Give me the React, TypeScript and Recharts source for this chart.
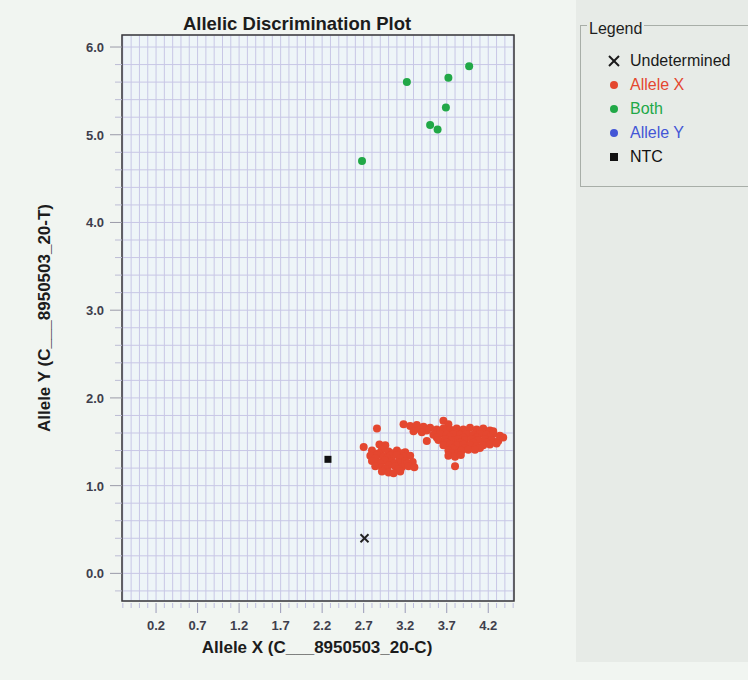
import {
  CartesianGrid,
  ReferenceArea,
  Scatter,
  ScatterChart,
  XAxis,
  YAxis,
} from "recharts";

type Pt = { x: number; y: number };

const X_LABELS = [0.2, 0.7, 1.2, 1.7, 2.2, 2.7, 3.2, 3.7, 4.2];
const Y_LABELS = [0, 1, 2, 3, 4, 5, 6];
const X_DOMAIN: [number, number] = [-0.21, 4.51];
const Y_DOMAIN: [number, number] = [-0.315, 6.137];

const ALLELE_X: Pt[] = [
  // left cluster
  { x: 2.86, y: 1.65 }, { x: 2.7, y: 1.44 }, { x: 2.89, y: 1.47 }, { x: 2.96, y: 1.46 },
  { x: 2.8, y: 1.4 }, { x: 2.92, y: 1.41 }, { x: 3.0, y: 1.39 }, { x: 3.1, y: 1.4 }, { x: 3.2, y: 1.38 },
  { x: 2.88, y: 1.37 }, { x: 3.05, y: 1.37 }, { x: 3.15, y: 1.37 },
  { x: 2.78, y: 1.34 }, { x: 2.86, y: 1.35 }, { x: 2.94, y: 1.33 }, { x: 3.02, y: 1.34 },
  { x: 3.1, y: 1.35 }, { x: 3.18, y: 1.33 }, { x: 3.26, y: 1.34 },
  { x: 2.84, y: 1.31 }, { x: 2.98, y: 1.31 }, { x: 3.14, y: 1.31 },
  { x: 2.8, y: 1.28 }, { x: 2.88, y: 1.27 }, { x: 2.96, y: 1.29 }, { x: 3.04, y: 1.28 },
  { x: 3.12, y: 1.27 }, { x: 3.2, y: 1.28 }, { x: 3.29, y: 1.27 },
  { x: 2.9, y: 1.25 }, { x: 3.06, y: 1.25 }, { x: 3.22, y: 1.25 },
  { x: 2.84, y: 1.22 }, { x: 2.92, y: 1.21 }, { x: 3.0, y: 1.23 }, { x: 3.08, y: 1.22 },
  { x: 3.16, y: 1.21 }, { x: 3.24, y: 1.22 }, { x: 3.31, y: 1.21 },
  { x: 2.96, y: 1.19 }, { x: 3.12, y: 1.19 },
  { x: 2.92, y: 1.16 }, { x: 3.0, y: 1.15 }, { x: 3.06, y: 1.14 }, { x: 3.14, y: 1.16 },
  // right cluster
  { x: 3.18, y: 1.7 }, { x: 3.26, y: 1.68 }, { x: 3.34, y: 1.69 }, { x: 3.42, y: 1.67 },
  { x: 3.66, y: 1.74 }, { x: 3.72, y: 1.7 }, { x: 3.5, y: 1.66 },
  { x: 3.3, y: 1.62 }, { x: 3.38, y: 1.64 }, { x: 3.46, y: 1.63 }, { x: 3.4, y: 1.61 },
  { x: 3.58, y: 1.64 }, { x: 3.66, y: 1.65 },
  { x: 3.74, y: 1.64 }, { x: 3.82, y: 1.65 }, { x: 3.9, y: 1.64 }, { x: 3.98, y: 1.66 },
  { x: 4.06, y: 1.64 }, { x: 4.14, y: 1.65 }, { x: 4.22, y: 1.63 },
  { x: 3.62, y: 1.62 }, { x: 3.78, y: 1.62 }, { x: 3.94, y: 1.62 }, { x: 4.1, y: 1.62 }, { x: 4.26, y: 1.62 },
  { x: 3.54, y: 1.58 }, { x: 3.62, y: 1.59 }, { x: 3.7, y: 1.58 }, { x: 3.78, y: 1.59 },
  { x: 3.86, y: 1.58 }, { x: 3.94, y: 1.59 }, { x: 4.02, y: 1.58 }, { x: 4.1, y: 1.59 },
  { x: 4.18, y: 1.58 }, { x: 4.26, y: 1.59 }, { x: 4.34, y: 1.57 },
  { x: 3.58, y: 1.55 }, { x: 3.74, y: 1.55 }, { x: 3.9, y: 1.55 }, { x: 4.06, y: 1.55 }, { x: 4.22, y: 1.55 },
  { x: 3.46, y: 1.51 }, { x: 3.6, y: 1.52 }, { x: 3.68, y: 1.53 }, { x: 3.76, y: 1.52 },
  { x: 3.84, y: 1.53 }, { x: 3.92, y: 1.52 }, { x: 4.0, y: 1.53 }, { x: 4.08, y: 1.52 },
  { x: 4.16, y: 1.53 }, { x: 4.24, y: 1.52 }, { x: 4.32, y: 1.51 }, { x: 4.38, y: 1.55 },
  { x: 3.7, y: 1.49 }, { x: 3.86, y: 1.49 }, { x: 4.02, y: 1.49 }, { x: 4.18, y: 1.49 },
  { x: 3.66, y: 1.46 }, { x: 3.74, y: 1.47 }, { x: 3.82, y: 1.46 }, { x: 3.9, y: 1.47 },
  { x: 3.98, y: 1.46 }, { x: 4.06, y: 1.45 }, { x: 4.14, y: 1.46 }, { x: 4.22, y: 1.47 },
  { x: 4.3, y: 1.48 },
  { x: 3.76, y: 1.43 }, { x: 3.92, y: 1.43 }, { x: 4.1, y: 1.43 },
  { x: 3.72, y: 1.4 }, { x: 3.8, y: 1.41 }, { x: 3.88, y: 1.4 }, { x: 3.96, y: 1.41 },
  { x: 4.04, y: 1.41 },
  { x: 3.76, y: 1.37 }, { x: 3.84, y: 1.37 },
  { x: 3.72, y: 1.34 }, { x: 3.8, y: 1.33 }, { x: 3.87, y: 1.35 },
  { x: 3.8, y: 1.22 },
];

const BOTH: Pt[] = [
  { x: 3.22, y: 5.6 }, { x: 3.72, y: 5.65 }, { x: 3.97, y: 5.78 }, { x: 3.69, y: 5.31 },
  { x: 3.5, y: 5.11 }, { x: 3.59, y: 5.06 }, { x: 2.68, y: 4.7 },
];

const ALLELE_Y: Pt[] = [];
const NTC: Pt[] = [{ x: 2.27, y: 1.3 }];
const UNDETERMINED: Pt[] = [{ x: 2.71, y: 0.4 }];

function steps(from: number, to: number, step: number) {
  const out: number[] = [];
  for (let v = from; v <= to + 1e-9; v += step) out.push(Math.round(v * 10) / 10);
  return out;
}
const X_GRID = steps(-0.2, 4.5, 0.1);
const Y_GRID = steps(-0.2, 6.0, 0.2);

const FONT = '"Liberation Sans", Arial, sans-serif';
const RED = "#e4472f";
const GREEN = "#21a847";
const BLUE = "#4356d6";

const isMajor = (list: number[], v: number) => list.some((l) => Math.abs(l - v) < 1e-6);

function XTick(props: any) {
  const { x, y, payload } = props;
  const major = isMajor(X_LABELS, payload.value);
  return (
    <g>
      <line x1={x} x2={x} y1={y + 2} y2={y + (major ? 12 : 7)} stroke={major ? "#9a9ab8" : "#bebee0"} />
      {major && (
        <text x={x} y={y + 29} textAnchor="middle" fontFamily={FONT} fontSize={13} fontWeight="bold" fill="#3e3e4c">
          {payload.value.toFixed(1)}
        </text>
      )}
    </g>
  );
}

function YTick(props: any) {
  const { x, y, payload } = props;
  const major = isMajor(Y_LABELS, payload.value);
  return (
    <g>
      <line x1={x - (major ? 12 : 7)} x2={x} y1={y} y2={y} stroke={major ? "#9a9aa8" : "#bcbcd4"} />
      {major && (
        <text x={x - 18} y={y + 5} textAnchor="end" fontFamily={FONT} fontSize={13} fontWeight="bold" fill="#3e3e4c">
          {payload.value.toFixed(1)}
        </text>
      )}
    </g>
  );
}

const Dot = (color: string) => (p: any) => <circle cx={p.cx} cy={p.cy} r={4} fill={color} />;
const Square = (p: any) => <rect x={p.cx - 3.5} y={p.cy - 3.5} width={7} height={7} fill="#111" />;
const Cross = (p: any) => (
  <g stroke="#222" strokeWidth={2}>
    <line x1={p.cx - 4} y1={p.cy - 4} x2={p.cx + 4} y2={p.cy + 4} />
    <line x1={p.cx - 4} y1={p.cy + 4} x2={p.cx + 4} y2={p.cy - 4} />
  </g>
);

const LEGEND = [
  { name: "Undetermined", color: "#1a1a1a", kind: "x" },
  { name: "Allele X", color: RED, kind: "dot" },
  { name: "Both", color: GREEN, kind: "dot" },
  { name: "Allele Y", color: BLUE, kind: "dot" },
  { name: "NTC", color: "#111", kind: "sq" },
];

function LegendBox() {
  return (
    <div
      style={{
        position: "absolute",
        left: 580,
        top: 25,
        width: 180,
        height: 160,
        border: "1px solid #a8aea8",
        fontFamily: FONT,
      }}
    >
      <span
        style={{
          position: "absolute",
          left: 6,
          top: -5,
          lineHeight: "16px",
          fontSize: 16,
          background: "#e7ebe7",
          padding: "0 2px",
          color: "#1e1e1e",
        }}
      >
        Legend
      </span>
      {LEGEND.map((item, i) => (
        <div
          key={item.name}
          style={{ position: "absolute", left: 26, top: 25 + i * 24, height: 20, display: "flex", alignItems: "center" }}
        >
          <svg width={14} height={14} style={{ marginRight: 9 }}>
            {item.kind === "x" && (
              <g stroke={item.color} strokeWidth={2}>
                <line x1={2} y1={2} x2={12} y2={12} />
                <line x1={2} y1={12} x2={12} y2={2} />
              </g>
            )}
            {item.kind === "dot" && <circle cx={7} cy={7} r={4} fill={item.color} />}
            {item.kind === "sq" && <rect x={3} y={3} width={8} height={8} fill={item.color} />}
          </svg>
          <span style={{ fontSize: 16, color: item.color, whiteSpace: "nowrap" }}>{item.name}</span>
        </div>
      ))}
    </div>
  );
}

export default function App() {
  return (
    <div style={{ position: "absolute", left: 0, top: 0, width: 748, height: 680, background: "#f1f5f1", overflow: "hidden" }}>
      <div style={{ position: "absolute", left: 576, top: 0, width: 172, height: 662, background: "#e7ebe7" }} />
      <div style={{ position: "absolute", left: 0, top: 0 }}>
        <ScatterChart width={748} height={680} margin={{ top: 35, right: 234, bottom: 49, left: 62 }}>
          <CartesianGrid stroke="#c8c7e6" fill="#eef5f8" fillOpacity={1} />
          <XAxis
            type="number"
            dataKey="x"
            domain={X_DOMAIN}
            ticks={X_GRID}
            interval={0}
            allowDataOverflow
            axisLine={false}
            tickLine={false}
            tickSize={0}
            tickMargin={0}
            height={30}
            tick={<XTick />}
          />
          <YAxis
            type="number"
            dataKey="y"
            domain={Y_DOMAIN}
            ticks={Y_GRID}
            interval={0}
            allowDataOverflow
            axisLine={false}
            tickLine={false}
            tickSize={0}
            tickMargin={0}
            width={60}
            tick={<YTick />}
          />
          <ReferenceArea
            x1={X_DOMAIN[0]}
            x2={X_DOMAIN[1]}
            y1={Y_DOMAIN[0]}
            y2={Y_DOMAIN[1]}
            fill="none"
            stroke="#3a3a3a"
            strokeWidth={1.5}
            ifOverflow="visible"
          />
          <Scatter name="Allele X" data={ALLELE_X} shape={Dot(RED)} isAnimationActive={false} />
          <Scatter name="Both" data={BOTH} shape={Dot(GREEN)} isAnimationActive={false} />
          <Scatter name="Allele Y" data={ALLELE_Y} shape={Dot(BLUE)} isAnimationActive={false} />
          <Scatter name="NTC" data={NTC} shape={Square} isAnimationActive={false} />
          <Scatter name="Undetermined" data={UNDETERMINED} shape={Cross} isAnimationActive={false} />
        </ScatterChart>
      </div>
      <div
        style={{
          position: "absolute",
          left: 97,
          top: 13,
          width: 400,
          textAlign: "center",
          fontFamily: FONT,
          fontWeight: "bold",
          fontSize: 18.5,
          lineHeight: "22px",
          color: "#1c1c1c",
          whiteSpace: "nowrap",
        }}
      >
        Allelic Discrimination Plot
      </div>
      <div
        style={{
          position: "absolute",
          left: 117,
          top: 638,
          width: 400,
          textAlign: "center",
          fontFamily: FONT,
          fontWeight: "bold",
          fontSize: 17,
          lineHeight: "20px",
          color: "#1c1c1c",
          whiteSpace: "nowrap",
        }}
      >
        Allele X (C___8950503_20-C)
      </div>
      <div
        style={{
          position: "absolute",
          left: 45 - 200,
          top: 318 - 10,
          width: 400,
          textAlign: "center",
          transform: "rotate(-90deg)",
          fontFamily: FONT,
          fontWeight: "bold",
          fontSize: 17,
          lineHeight: "20px",
          color: "#1c1c1c",
          whiteSpace: "nowrap",
        }}
      >
        Allele Y (C___8950503_20-T)
      </div>
      <LegendBox />
    </div>
  );
}
